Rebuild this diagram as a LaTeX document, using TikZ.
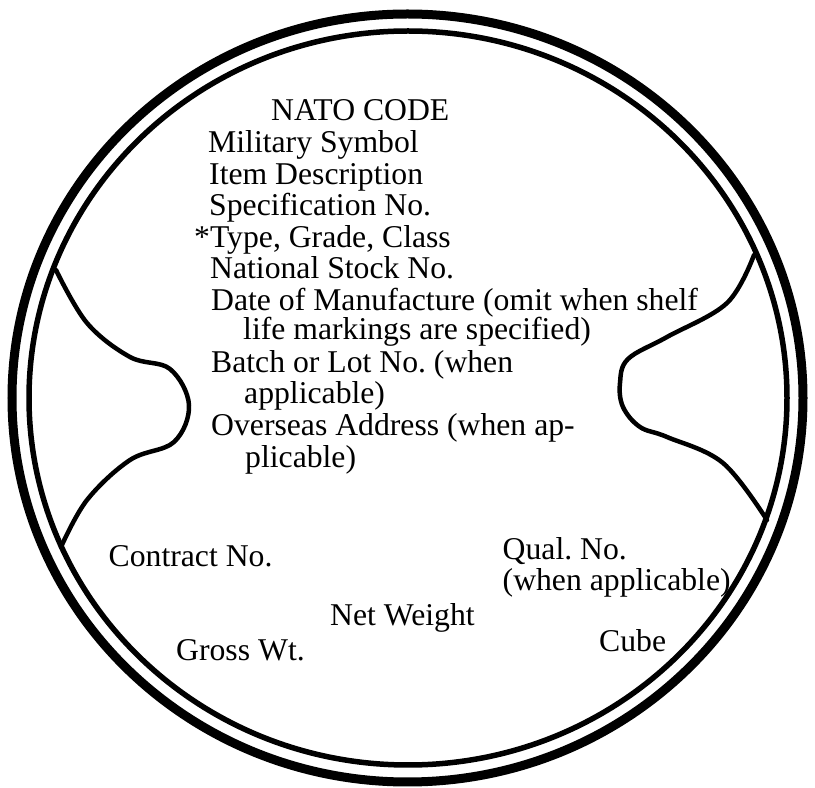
\documentclass[tikz,border=0pt]{standalone}
\usepackage{fontspec}
\setmainfont{Liberation Serif}
\frenchspacing

\begin{document}
\begin{tikzpicture}[x=1pt, y=1pt,
    ring/.style={draw=black, line width=#1},
    lobe/.style={draw=black, line width=4.5pt, line cap=round, line join=round},
    lbl/.style={anchor=base west, inner sep=0pt, font=\fontsize{31.7}{32}\selectfont}
]
    \useasboundingbox (0,0) rectangle (815,788);

    % double ring of the label
    \draw[ring=9pt] (407.5,390) ellipse [x radius=395.5, y radius=384];
    \draw[ring=5.5pt] (408,390) ellipse [x radius=379, y radius=367];

    % side cut-outs
    \draw[lobe] plot[smooth, tension=0.6] coordinates {(56,518) (87,465) (130,431) (170,419) (189,383) (174,346) (130,328) (87,288) (61,241)};
    \draw[lobe] plot[smooth, tension=0.6] coordinates {(754,533) (727,485) (667,451) (628,429) (620,405) (623,381) (640,361) (667,351) (723,325) (767,268)};

    % marking lines
    \node[lbl] (nato) at (271,667) {NATO CODE};
    \node[lbl] (milsym) at (208,635) {Military Symbol};
    \node[lbl] (itemdesc) at (209,603.5) {Item Description};
    \node[lbl] (specno) at (209,572) {Specification No.};
    \node[lbl] (typegrade) at (194,540.5) {*Type, Grade, Class};
    \node[lbl] (stockno) at (210,509) {National Stock No.};
    \node[lbl] (datemfr) at (211,477.5) {Date of Manufacture (omit when shelf};
    \node[lbl] (datemfr2) at (243,448) {life markings are specified)};
    \node[lbl] (batch) at (211,415.5) {Batch or Lot No. (when};
    \node[lbl] (batch2) at (244,384) {applicable)};
    \node[lbl] (overseas) at (211,352.5) {Overseas Address (when ap-};
    \node[lbl] (overseas2) at (245,320.5) {plicable)};

    \node[lbl] (contract) at (108.5,221.5) {Contract No.};
    \node[lbl] (qual) at (502.5,228.5) {Qual. No.};
    \node[lbl] (qual2) at (502.5,197) {(when applicable)};
    \node[lbl] (netwt) at (330,162) {Net Weight};
    \node[lbl] (grosswt) at (176,127.5) {Gross Wt.};
    \node[lbl] (cube) at (599,136) {Cube};
\end{tikzpicture}
\end{document}
